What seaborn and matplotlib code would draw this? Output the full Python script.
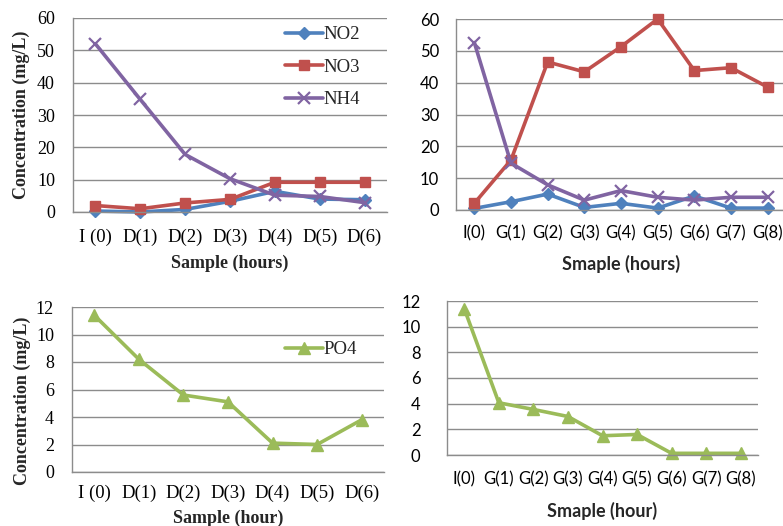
import matplotlib
matplotlib.use("Agg")
import matplotlib.pyplot as plt
import numpy as np
import pandas as pd
import seaborn as sns

# ---------------- data ----------------
d_labels = ["I (0)", "D(1)", "D(2)", "D(3)", "D(4)", "D(5)", "D(6)"]
g_labels = ["I(0)", "G(1)", "G(2)", "G(3)", "G(4)", "G(5)", "G(6)", "G(7)", "G(8)"]

d_no2 = [0.3, 0.0, 0.8, 3.3, 6.4, 4.0, 3.8]
d_no3 = [2.0, 1.0, 2.8, 3.9, 9.2, 9.2, 9.2]
d_nh4 = [52.0, 34.8, 17.8, 10.3, 5.2, 4.8, 2.9]
d_po4 = [11.4, 8.2, 5.6, 5.1, 2.1, 2.0, 3.8]

g_no2 = [0.5, 2.6, 5.0, 0.8, 2.1, 0.6, 4.4, 0.6, 0.6]
g_no3 = [2.1, 15.7, 46.5, 43.4, 51.3, 60.0, 43.8, 44.7, 38.6]
g_nh4 = [52.6, 14.7, 7.9, 3.1, 6.1, 4.0, 3.1, 4.0, 4.0]
g_po4 = [11.4, 4.07, 3.55, 3.0, 1.5, 1.6, 0.13, 0.13, 0.13]

C_NO2 = "#4F81BD"
C_NO3 = "#C0504D"
C_NH4 = "#8064A2"
C_PO4 = "#9BBB59"
GRID = "#8c8c8c"

SERIF = ["Liberation Serif", "DejaVu Serif"]
SANS = ["Lato", "DejaVu Sans"]

sns.set_style("white")

W, H = 783, 526
fig = plt.figure(figsize=(W / 100, H / 100), dpi=100)


def add_ax(l, r, t, b):
    return fig.add_axes([l / W, 1 - b / H, (r - l) / W, (b - t) / H])


def style_ax(ax, n, labels, ymax, ystep, family, xlabel, ylabel,
             xpad, ypad, xsize, ysize, xlabpad):
    ax.set_xlim(-0.5, n - 0.5)
    ax.set_ylim(0, ymax)
    ax.set_yticks(np.arange(0, ymax + 0.001, ystep))
    ax.set_xticks(range(n))
    ax.set_xticklabels(labels, family=family, fontsize=xsize)
    for t in ax.get_yticklabels():
        t.set_family(family)
        t.set_fontsize(ysize)
    ax.yaxis.grid(True, color=GRID, linewidth=1.0)
    ax.xaxis.grid(False)
    ax.set_axisbelow(True)
    for s in ["top", "right"]:
        ax.spines[s].set_visible(False)
    for s in ["left", "bottom"]:
        ax.spines[s].set_color(GRID)
        ax.spines[s].set_linewidth(1.0)
    ax.tick_params(axis="both", length=0, colors="black")
    ax.tick_params(axis="y", pad=ypad)
    ax.tick_params(axis="x", pad=xpad)
    ax.set_xlabel(xlabel, family=family, fontweight="bold", fontsize=13,
                  labelpad=xlabpad)
    if ylabel:
        ax.set_ylabel(ylabel, family=family, fontweight="bold", fontsize=13, labelpad=5)
    else:
        ax.set_ylabel("")


def draw(ax, vals, color, marker, ms, label, mew=1.0):
    x = np.arange(len(vals))
    sns.lineplot(x=x, y=vals, ax=ax, color=color, linewidth=2.6, marker=marker,
                 markersize=ms, markeredgecolor=color, markerfacecolor=color,
                 markeredgewidth=mew, label=label, clip_on=False)


LEG = dict(frameon=False, prop={"family": SERIF, "size": 13.5},
           handlelength=2.05, handletextpad=0.0, borderaxespad=0, borderpad=0,
           bbox_transform=fig.transFigure, loc="upper left")

# ---------------- top-left ----------------
ax1 = add_ax(73, 387, 18, 212)
draw(ax1, d_no2, C_NO2, "D", 6, "NO2")
draw(ax1, d_no3, C_NO3, "s", 7.5, "NO3")
draw(ax1, d_nh4, C_NH4, "x", 8, "NH4", mew=1.6)
style_ax(ax1, len(d_labels), d_labels, 60, 10, SERIF,
         "Sample (hours)", "Concentration (mg/L)", 12, 13, 13.5, 13, 6)
ax1.legend(bbox_to_anchor=(285 / W, 1 - 26 / H), labelspacing=0.82, **LEG)

# ---------------- top-right ----------------
ax2 = add_ax(456, 786, 19, 210)
draw(ax2, g_no2, C_NO2, "D", 6, "NO2")
draw(ax2, g_no3, C_NO3, "s", 7.5, "NO3")
draw(ax2, g_nh4, C_NH4, "x", 8, "NH4", mew=1.6)
style_ax(ax2, len(g_labels), g_labels, 60, 10, SANS,
         "Smaple (hours)", None, 11, 12, 12, 12, 10)
ax2.get_legend().remove()

# ---------------- bottom-left ----------------
ax3 = add_ax(72, 384, 307, 472)
draw(ax3, d_po4, C_PO4, "^", 8.5, "PO4")
style_ax(ax3, len(d_labels), d_labels, 12, 2, SERIF,
         "Sample (hour)", "Concentration (mg/L)", 9, 13, 13.5, 13, 6)
ax3.yaxis.set_label_coords(-0.13, 0.43)
ax3.legend(bbox_to_anchor=(285 / W, 1 - 341 / H), **LEG)

# ---------------- bottom-right ----------------
ax4 = add_ax(447, 758, 301, 455)
draw(ax4, g_po4, C_PO4, "^", 8.5, "PO4")
style_ax(ax4, len(g_labels), g_labels, 12, 2, SANS,
         "Smaple (hour)", None, 12, 19, 12, 12, 10)
ax4.get_legend().remove()

fig.savefig("out.png", dpi=100)
